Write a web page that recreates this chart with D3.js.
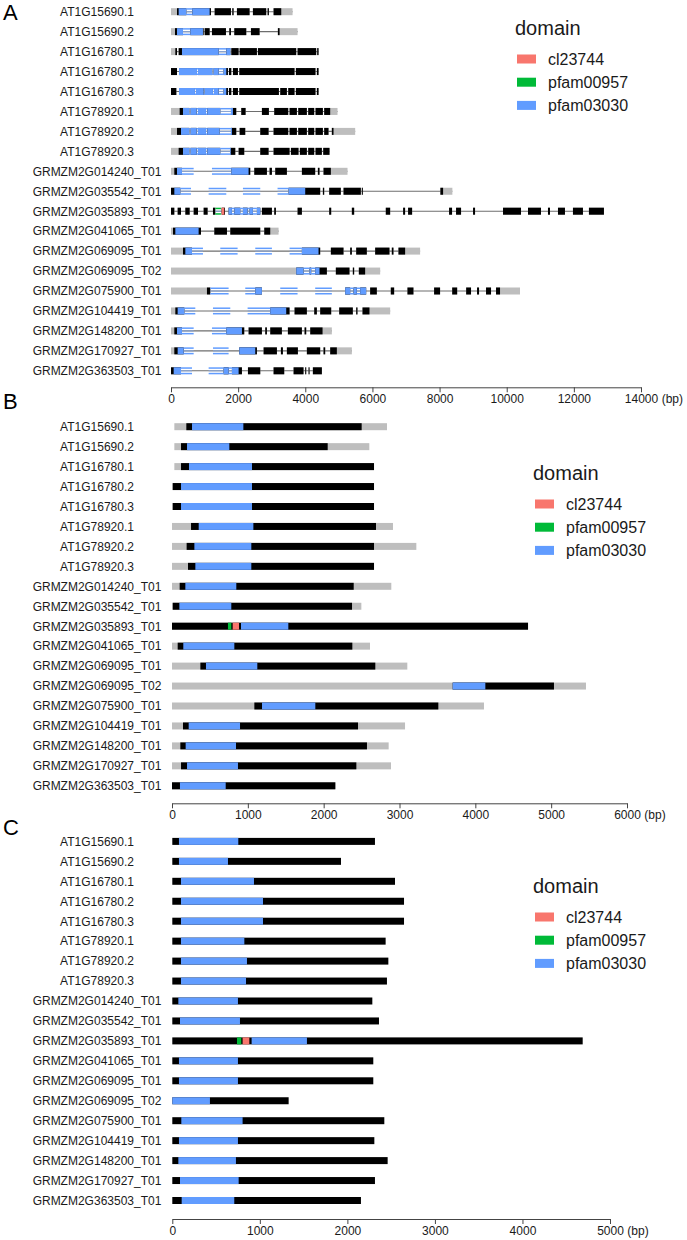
<!DOCTYPE html>
<html><head><meta charset="utf-8">
<script src="https://cdn.jsdelivr.net/npm/d3@7"></script>
<style>body{margin:0;background:#fff}svg{display:block}text{font-family:"Liberation Sans",Arial,sans-serif}</style>
</head><body><svg id="c" width="687" height="1240"></svg>
<script>
const genes = ["AT1G15690.1","AT1G15690.2","AT1G16780.1","AT1G16780.2","AT1G16780.3","AT1G78920.1","AT1G78920.2","AT1G78920.3","GRMZM2G014240_T01","GRMZM2G035542_T01","GRMZM2G035893_T01","GRMZM2G041065_T01","GRMZM2G069095_T01","GRMZM2G069095_T02","GRMZM2G075900_T01","GRMZM2G104419_T01","GRMZM2G148200_T01","GRMZM2G170927_T01","GRMZM2G363503_T01"];
const domainTypes = ["cl23744","pfam00957","pfam03030"];
const domainColors = ["#F8766D","#00BA38","#619CFF"];

// Panel A: genomic structure (bp)
const aExons = [
 [[0,456],[635,1190],[1300,1786],[1825,1865],[1964,2341],[2440,2837],[2877,2916],[3055,3621]],
 [[0,357],[575,972],[1002,1151],[1220,1637],[1736,1786],[1885,2242],[2381,2639],[3184,3770]],
 [[0,179],[228,1419],[1647,1766],[1796,2014],[2044,2559],[2589,3730],[3770,4325],[4355,4395]],
 [[0,179],[238,774],[804,1230],[1270,1419],[1567,1696],[1726,1796],[1845,1994],[2034,3680],[3720,4305],[4345,4395]],
 [[0,159],[238,714],[744,972],[1002,1250],[1280,1419],[1567,1696],[1726,1796],[1845,1994],[2034,3214],[3254,3452],[3492,3680],[3720,4305],[4345,4395]],
 [[0,546],[585,764],[804,1042],[1081,1468],[1786,1944],[2093,2222],[2708,2916],[3075,3492],[3532,3750],[3790,4047],[4087,4266],[4305,4524],[4563,4960]],
 [[0,546],[585,764],[804,1042],[1081,1448],[1786,1944],[2044,2212],[2659,2907],[3055,3492],[3532,3750],[3790,4047],[4087,4266],[4305,4524],[4563,4692],[4791,5486]],
 [[0,546],[585,764],[804,1042],[1081,1468],[1766,1915],[2014,2182],[2659,2907],[3055,3532],[3572,3799],[3839,4047],[4087,4266],[4305,4494],[4534,4722]],
 [[0,327],[1796,2361],[2480,2857],[2936,3006],[3105,3452],[3899,4295],[4375,4424],[4543,5258]],
 [[0,278],[3502,4444],[4524,4563],[4712,5059],[5139,5655],[5684,5714],[8024,8381]],
 [[0,99],[198,298],[427,556],[675,804],[972,1091],[1250,1319],[1508,1607],[1716,1815],[1885,2063],[2143,2282],[2341,2440],[2559,2659],[2708,3006],[3075,3125],[3770,3899],[4712,4772],[5387,5456],[6398,6528],[6914,6973],[7062,7182],[8283,8372],[8491,8640],[8997,9057],[9890,10426],[10634,11021],[11229,11289],[11527,11735],[11973,12271],[12449,12896]],
 [[0,893],[1290,1667],[1766,2659],[2778,3204]],
 [[0,625],[3899,4444],[4762,5139],[5337,5387],[5516,5833],[6081,6508],[6577,6627],[6775,7420]],
 [[0,3948],[4127,4176],[4295,4643],[4910,5317],[5416,5456],[5595,6230]],
 [[0,1171],[2510,2708],[5188,5337],[5436,5535],[5635,5813],[5932,6131],[6547,6647],[7043,7222],[7837,8015],[8376,8524],[8792,8937],[9116,9176],[9384,9533],[9682,10396]],
 [[0,397],[2956,3532],[3680,4047],[4266,4345],[4444,4772],[5010,5416],[5516,5555],[5704,6528]],
 [[0,327],[1647,2182],[2311,2708],[2807,2857],[2956,3303],[3482,3899],[3978,4028],[4147,4791]],
 [[0,377],[2034,2559],[2758,3155],[3274,3333],[3452,3780],[4047,4444],[4543,4593],[4742,5387]],
 [[0,298],[1567,1716],[1815,2113],[2292,2659],[3055,3373],[3651,3948],[3998,4028],[4097,4127],[4226,4494]]
];
const aCds = [[179,3284],[119,3234],[129,4395],[0,4395],[0,4395],[258,4742],[179,4841],[228,4722],[99,4762],[0,8105],[0,12896],[60,2956],[357,6974],[3730,5783],[1071,9801],[129,5912],[99,4514],[99,4940],[0,4494]];
const aDomains = [
 [[228,1151,"pfam03030"]],
 [[179,952,"pfam03030"]],
 [[327,1786,"pfam03030"]],
 [[238,1647,"pfam03030"]],
 [[238,1647,"pfam03030"]],
 [[357,1845,"pfam03030"]],
 [[298,1815,"pfam03030"]],
 [[357,1786,"pfam03030"]],
 [[179,675,"pfam03030"],[1220,2311,"pfam03030"]],
 [[99,595,"pfam03030"],[1121,1647,"pfam03030"],[2143,2659,"pfam03030"],[3174,3998,"pfam03030"]],
 [[1319,1488,"pfam00957"],[1508,1587,"cl23744"],[1716,2659,"pfam03030"]],
 [[129,823,"pfam03030"]],
 [[427,952,"pfam03030"],[1468,1984,"pfam03030"],[2510,3006,"pfam03030"],[3532,4395,"pfam03030"]],
 [[3730,4424,"pfam03030"]],
 [[1171,1716,"pfam03030"],[2212,2708,"pfam03030"],[3254,3770,"pfam03030"],[4295,4791,"pfam03030"],[5188,5813,"pfam03030"]],
 [[198,724,"pfam03030"],[1250,1766,"pfam03030"],[2282,3432,"pfam03030"]],
 [[179,675,"pfam03030"],[1220,2113,"pfam03030"]],
 [[198,675,"pfam03030"],[1250,1716,"pfam03030"],[2034,2510,"pfam03030"]],
 [[79,625,"pfam03030"],[1121,2014,"pfam03030"]]
];
const aTicks = [0,2000,4000,6000,8000,10000,12000,14000];

// Panel B: transcript (bp)
const bTx = [[31,2835],[31,2602],[31,2664],[9,2664],[9,2664],[0,2914],[0,3222],[0,2664],[0,2892],[9,2497],[0,4695],[0,2611],[0,3103],[0,5459],[0,4114],[0,3073],[0,2857],[0,2888],[0,2154]];
const bCds = [[189,2501],[119,2053],[119,2664],[9,2664],[9,2664],[251,2690],[193,2664],[211,2664],[101,2396],[9,2374],[0,4695],[75,2378],[374,2681],[3701,5037],[1086,3512],[145,2453],[110,2571],[119,2431],[0,2154]];
const bDomains = [
 [[264,941,"pfam03030"]],[[198,756,"pfam03030"]],[[224,1055,"pfam03030"]],[[119,1055,"pfam03030"]],[[119,1055,"pfam03030"]],
 [[352,1073,"pfam03030"]],[[295,1046,"pfam03030"]],[[308,1046,"pfam03030"]],[[176,848,"pfam03030"]],[[97,782,"pfam03030"]],
 [[738,782,"pfam00957"],[800,884,"cl23744"],[910,1534,"pfam03030"]],
 [[149,822,"pfam03030"]],[[448,1125,"pfam03030"]],[[3701,4132,"pfam03030"]],[[1187,1890,"pfam03030"]],
 [[220,897,"pfam03030"]],[[180,844,"pfam03030"]],[[198,870,"pfam03030"]],[[105,708,"pfam03030"]]
];
const bTicks = [0,1000,2000,3000,4000,5000,6000];

// Panel C: CDS (bp)
const cCds = [[0,2315],[0,1927],[0,2544],[0,2647],[0,2647],[0,2437],[0,2468],[0,2452],[0,2285],[0,2361],[0,4688],[0,2296],[0,2296],[0,1329],[0,2422],[0,2308],[0,2460],[0,2315],[0,2155]];
const cDomains = [
 [[76,754,"pfam03030"]],[[76,636,"pfam03030"]],[[99,933,"pfam03030"]],[[99,1036,"pfam03030"]],[[99,1036,"pfam03030"]],
 [[99,823,"pfam03030"]],[[99,853,"pfam03030"]],[[99,842,"pfam03030"]],[[69,750,"pfam03030"]],[[88,773,"pfam03030"]],
 [[739,788,"pfam00957"],[803,880,"cl23744"],[906,1538,"pfam03030"]],
 [[76,750,"pfam03030"]],[[76,750,"pfam03030"]],[[0,430,"pfam03030"]],[[103,803,"pfam03030"]],
 [[76,750,"pfam03030"]],[[69,727,"pfam03030"]],[[88,758,"pfam03030"]],[[107,708,"pfam03030"]]
];
const cTicks = [0,1000,2000,3000,4000,5000];

const svg = d3.select("#c");
const color = d3.scaleOrdinal().domain(domainTypes).range(domainColors);
const H = 7, STEP = 19.95;
const GRAY = "#BEBEBE", TXT = "#1a1a1a";

function rowScale(top){ return d3.scalePoint().domain(genes).range([top, top + STEP*(genes.length-1)]); }

function drawLabels(g, y){
  g.selectAll("text.lab").data(genes).join("text").attr("class","lab")
    .attr("x",97).attr("y",d=>y(d)+4.3).attr("text-anchor","middle")
    .attr("font-size",12).attr("fill",TXT).text(d=>d);
}
function drawAxis(g, x, ticks, yA){
  const maxT = ticks[ticks.length-1];
  const a = g.append("g").attr("transform",`translate(0,${yA})`)
    .call(d3.axisBottom(x).tickValues(ticks).tickSize(5).tickSizeOuter(0).tickFormat(d3.format("d")));
  a.attr("font-size",12).attr("font-family","Liberation Sans, Arial, sans-serif");
  a.select(".domain").attr("stroke","#444");
  a.selectAll(".tick line").attr("stroke","#444");
  a.selectAll(".tick text").attr("fill",TXT).attr("y",7);
  a.selectAll(".tick").filter(d=>d===maxT).each(function(){
    const t = d3.select(this).select("text");
    const w = t.node().getComputedTextLength();
    d3.select(this).append("text").attr("x",w/2+3.5).attr("y",7).attr("dy","0.71em")
      .attr("text-anchor","start").attr("fill",TXT).text("(bp)");
  });
}
function drawLegend(g, x0, base){
  g.append("text").attr("x",x0).attr("y",base).attr("font-size",20).attr("fill",TXT).text("domain");
  const it = g.selectAll("g.li").data(domainTypes).join("g").attr("class","li")
    .attr("transform",(d,i)=>`translate(${x0+2},${base+24+i*23.2})`);
  it.append("rect").attr("x",0).attr("y",-4.5).attr("width",19).attr("height",9).attr("fill",d=>color(d));
  it.append("text").attr("x",31).attr("y",5.8).attr("font-size",16).attr("fill",TXT).text(d=>d);
}
function panelLetter(txt, x, y){
  svg.append("text").attr("x",x).attr("y",y).attr("font-size",22).attr("fill","#000").text(txt);
}

// ---- Panel A
(function(){
  const g = svg.append("g");
  const x = d3.scaleLinear().domain([0,14000]).range([171,641]);
  const y = rowScale(11.7);
  drawLabels(g, y);
  genes.forEach((name,i)=>{
    const cy = y(name), ex = aExons[i], cds = aCds[i];
    const r = g.append("g");
    r.append("line").attr("x1",x(ex[0][0])).attr("x2",x(ex[ex.length-1][1]))
      .attr("y1",cy).attr("y2",cy).attr("stroke","#6e6e6e").attr("stroke-width",1.1);
    r.selectAll("rect.ex").data(ex).join("rect").attr("class","ex")
      .attr("x",d=>x(d[0])).attr("width",d=>Math.max(0.8,x(d[1])-x(d[0])))
      .attr("y",cy-H/2).attr("height",H).attr("fill",GRAY);
    const cdsParts = ex.map(d=>[Math.max(d[0],cds[0]),Math.min(d[1],cds[1])]).filter(d=>d[1]>d[0]);
    r.selectAll("rect.cd").data(cdsParts).join("rect").attr("class","cd")
      .attr("x",d=>x(d[0])).attr("width",d=>Math.max(0.8,x(d[1])-x(d[0])))
      .attr("y",cy-H/2).attr("height",H).attr("fill","#000");
    aDomains[i].forEach(dm=>{
      const c = color(dm[2]);
      ex.forEach(e=>{
        const s = Math.max(e[0],dm[0]), t = Math.min(e[1],dm[1]);
        if (t>s) r.append("rect").attr("x",x(s)).attr("width",x(t)-x(s)).attr("y",cy-H/2).attr("height",H).attr("fill",c);
      });
      for (let k=0;k<ex.length-1;k++){
        const s = Math.max(ex[k][1],dm[0]), t = Math.min(ex[k+1][0],dm[1]);
        if (t>s){
          [-H/2+0.75, H/2-0.75].forEach(dy=>{
            r.append("line").attr("x1",x(s)).attr("x2",x(t)).attr("y1",cy+dy).attr("y2",cy+dy)
              .attr("stroke",c).attr("stroke-width",1.5);
          });
          r.append("line").attr("x1",x(s)).attr("x2",x(t)).attr("y1",cy).attr("y2",cy)
            .attr("stroke","#8aa6d6").attr("stroke-width",1.1);
        }
      }
    });
  });
  drawAxis(g, x, aTicks, 387.3);
  drawLegend(g, 515, 35);
  panelLetter("A", 3, 20);
})();

// ---- Panel B
(function(){
  const g = svg.append("g");
  const x = d3.scaleLinear().domain([0,6000]).range([172,627]);
  const y = rowScale(426.7);
  drawLabels(g, y);
  g.selectAll("rect.tx").data(genes).join("rect").attr("class","tx")
    .attr("x",(d,i)=>x(bTx[i][0])).attr("width",(d,i)=>x(bTx[i][1])-x(bTx[i][0]))
    .attr("y",d=>y(d)-H/2).attr("height",H).attr("fill",GRAY);
  g.selectAll("rect.cd").data(genes).join("rect").attr("class","cd")
    .attr("x",(d,i)=>x(bCds[i][0])).attr("width",(d,i)=>x(bCds[i][1])-x(bCds[i][0]))
    .attr("y",d=>y(d)-H/2).attr("height",H).attr("fill","#000");
  const doms = bDomains.flatMap((arr,i)=>arr.map(d=>({g:genes[i],s:d[0],e:d[1],t:d[2]})));
  g.selectAll("rect.dm").data(doms).join("rect").attr("class","dm")
    .attr("x",d=>x(d.s)).attr("width",d=>x(d.e)-x(d.s))
    .attr("y",d=>y(d.g)-H/2).attr("height",H).attr("fill",d=>color(d.t));
  drawAxis(g, x, bTicks, 803.3);
  drawLegend(g, 533, 480);
  panelLetter("B", 3, 409);
})();

// ---- Panel C
(function(){
  const g = svg.append("g");
  const x = d3.scaleLinear().domain([0,5000]).range([172.3,610]);
  const y = rowScale(841.4);
  drawLabels(g, y);
  g.selectAll("rect.cd").data(genes).join("rect").attr("class","cd")
    .attr("x",(d,i)=>x(cCds[i][0])).attr("width",(d,i)=>x(cCds[i][1])-x(cCds[i][0]))
    .attr("y",d=>y(d)-H/2).attr("height",H).attr("fill","#000");
  const doms = cDomains.flatMap((arr,i)=>arr.map(d=>({g:genes[i],s:d[0],e:d[1],t:d[2]})));
  g.selectAll("rect.dm").data(doms).join("rect").attr("class","dm")
    .attr("x",d=>x(d.s)).attr("width",d=>x(d.e)-x(d.s))
    .attr("y",d=>y(d.g)-H/2).attr("height",H).attr("fill",d=>color(d.t));
  drawAxis(g, x, cTicks, 1219);
  drawLegend(g, 533, 893);
  panelLetter("C", 3, 835);
})();
</script></body></html>
